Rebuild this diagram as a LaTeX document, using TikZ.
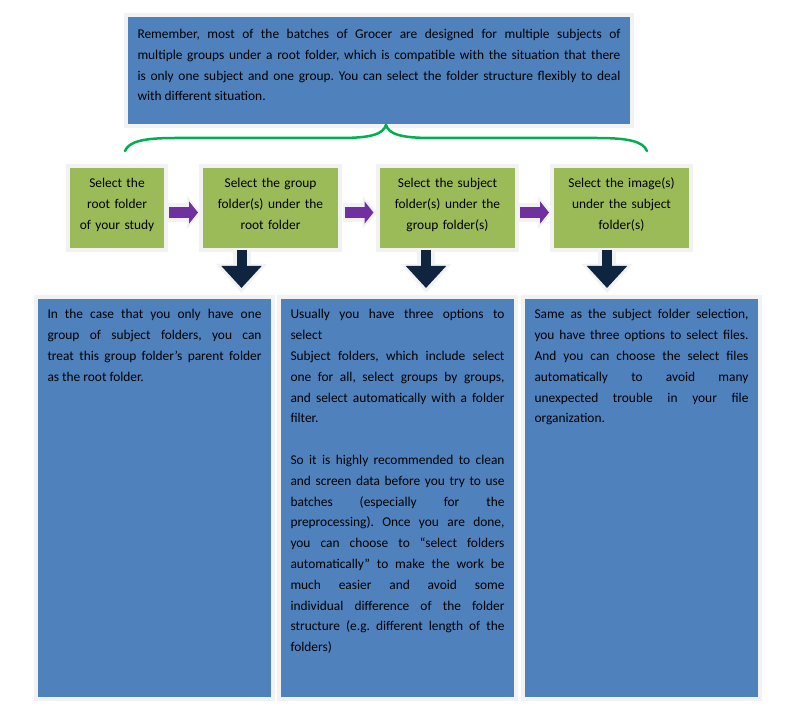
\documentclass[tikz,border=0pt]{standalone}
\usepackage{fontspec}
\setmainfont{Carlito}
\usetikzlibrary{positioning, arrows.meta, calc}
\definecolor{mBlue}{HTML}{4F81BD}
\definecolor{mGreen}{HTML}{9BBB59}
\definecolor{mPurple}{HTML}{7030A0}
\definecolor{mNavy}{HTML}{0F243E}
\definecolor{mBrace}{HTML}{00B050}
\definecolor{mEdge}{HTML}{F2F2F2}
\newcommand{\panelfont}{\fontsize{13.4}{20.6}\selectfont\frenchspacing}
\newcommand{\tallfont}{\fontsize{13.4}{20.8}\selectfont\frenchspacing}
\hyphenpenalty=10000
\exhyphenpenalty=10000

\begin{document}
\begin{tikzpicture}[x=1pt, y=-1pt,
  panel/.style={draw=mEdge, line width=4pt, outer sep=0pt, inner sep=0pt,
                anchor=north west, font=\panelfont, text=black},
  note/.style={panel, fill=mBlue, align=justify},
  tall/.style={note, font=\tallfont, minimum width=237pt, text width=214pt,
               text height=22pt, text depth=380pt},
  stage/.style={panel, fill=mGreen, align=center, minimum width=139pt,
                text width=131pt, text height=22pt, text depth=62pt},
  next/.style={draw=mPurple, line width=11pt,
               -{Triangle[length=9pt, width=22pt]},
               preaction={draw=mEdge, line width=19pt, shorten <=-2pt,
                          shorten >=-4pt, -{Triangle[length=15pt, width=32pt]}}},
  down/.style={draw=mNavy, line width=10pt,
               -{Triangle[length=22pt, width=39pt]},
               preaction={draw=mEdge, line width=18pt, shorten >=-5pt,
                          -{Triangle[length=29pt, width=49pt]}}},
  brace/.style={draw=mBrace, line width=2.5pt, line cap=round},
]
  \useasboundingbox (0,0) rectangle (793,714);

  \node[note, minimum width=506pt, text width=483pt,
        text height=24pt, text depth=87pt] (top) at (126,15) {
    Remember, most of the batches of Grocer are designed for multiple subjects of\linebreak
    multiple groups under a root folder, which is compatible with the situation that there\linebreak
    is only one subject and one group. You can select the folder structure flexibly to deal\linebreak
    with different situation.
  };

  \draw[brace] (125,151) .. controls (129,141) and (145,138) .. (175,138)
    -- (340,138) .. controls (372,138) and (383,134) .. (386,125)
    .. controls (389,134) and (400,138) .. (432,138)
    -- (597,138) .. controls (627,138) and (643,141) .. (647,151);

  \node[stage, minimum width=98pt, text width=90pt] (s1) at (68,166)
    {Select the\\root folder\\of your study};
  \node[stage] (s2) at (201,166) {Select the group\\folder(s) under the\\root folder};
  \node[stage] (s3) at (378,166) {Select the subject\\folder(s) under the\\group folder(s)};
  \node[stage] (s4) at (552,166) {Select the image(s)\\under the subject\\folder(s)};

  \foreach \a/\b in {s1/s2, s2/s3, s3/s4}
    \draw[next] ($(\a.east)!0.5!(\b.west)+(-14.5,4.5)$) -- ++(29,0);

  \foreach \s/\x in {s2/241.5, s3/426, s4/607}
    \draw[down] (\x,0 |- \s.south) -- ++(0,38);

  \node[tall] (b1) at (36,297) {
    In the case that you only have one\linebreak
    group of subject folders, you can\linebreak
    treat this group folder’s parent folder\linebreak
    as the root folder.
  };
  \node[tall] (b2) at (279,297) {
    Usually you have three options to\linebreak
    select\par
    Subject folders, which include select\linebreak
    one for all, select groups by groups,\linebreak
    and select automatically with a folder\linebreak
    filter.\par
    \mbox{}\par
    So it is highly recommended to clean\linebreak
    and screen data before you try to use\linebreak
    batches (especially for the\linebreak
    preprocessing). Once you are done,\linebreak
    you can choose to “select folders\linebreak
    automatically” to make the work be\linebreak
    much easier and avoid some\linebreak
    individual difference of the folder\linebreak
    structure (e.g. different length of the\linebreak
    folders)
  };
  \node[tall] (b3) at (523,297) {
    Same as the subject folder selection,\linebreak
    you have three options to select files.\linebreak
    And you can choose the select files\linebreak
    automatically to avoid many\linebreak
    unexpected trouble in your file\linebreak
    organization.
  };
\end{tikzpicture}
\end{document}
